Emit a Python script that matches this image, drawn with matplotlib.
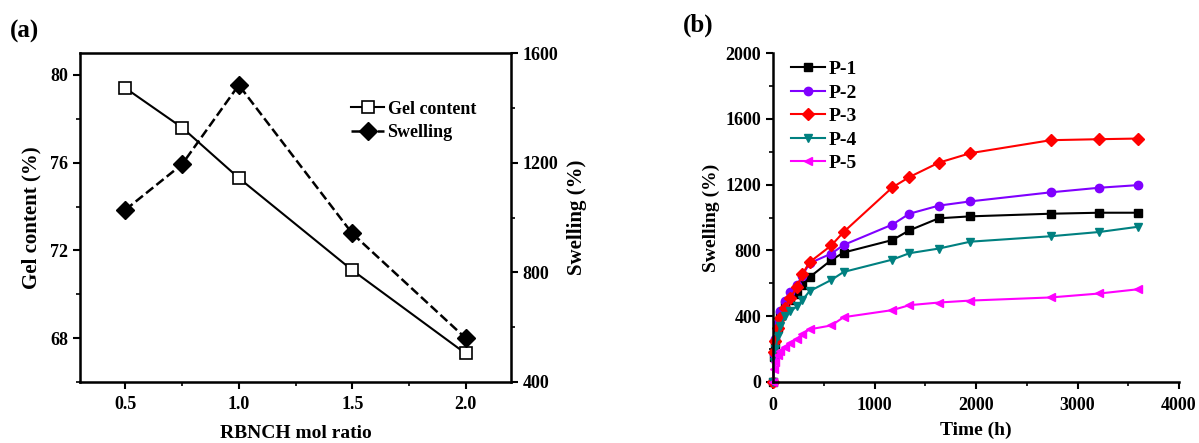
import matplotlib.pyplot as plt
from matplotlib.ticker import MultipleLocator

plt.rcParams['font.family'] = ['Liberation Serif', 'DejaVu Serif']
plt.rcParams['font.weight'] = 'bold'
plt.rcParams['axes.labelweight'] = 'bold'

# panel (a)
ratio = [0.5, 0.75, 1.0, 1.5, 2.0]
gel = [79.4, 77.6, 75.3, 71.1, 67.3]
swelling_a = [1028, 1194, 1483, 942, 560]

# panel (b)
time_h = [0, 12, 24, 48, 72, 120, 168, 240, 288, 360, 576, 696,
          1176, 1344, 1632, 1944, 2736, 3216, 3600]
p1 = [0, 150, 230, 330, 410, 470, 500, 536, 590, 637, 742, 787,
      863, 922, 995, 1007, 1023, 1029, 1029]
p2 = [0, 170, 260, 360, 433, 490, 550, 590, 645, 722, 781, 833,
      957, 1023, 1072, 1098, 1153, 1181, 1197]
p3 = [0, 180, 250, 330, 390, 449, 510, 580, 655, 728, 831, 912,
      1183, 1246, 1333, 1391, 1470, 1476, 1480]
p4 = [0, 120, 200, 280, 340, 400, 430, 461, 497, 552, 621, 669,
      744, 783, 811, 853, 886, 912, 944]
p5 = [0, 80, 120, 165, 190, 214, 237, 263, 291, 320, 344, 394,
      437, 467, 483, 495, 514, 538, 564]

fig = plt.figure(figsize=(11.99, 4.43), dpi=100)
W, H = 1199, 443

# ---- (a)
ax = fig.add_axes([80 / W, 1 - 382 / H, 431 / W, 329 / H])
ax.plot(ratio, gel, 'k-', marker='s', markersize=8, markerfacecolor='white',
        markeredgewidth=1.2, linewidth=1.5, label='Gel content')
ax.set_xlim(0.3, 2.2)
ax.set_ylim(66, 81)
ax.xaxis.set_major_locator(MultipleLocator(0.5))
ax.xaxis.set_minor_locator(MultipleLocator(0.25))
ax.yaxis.set_major_locator(MultipleLocator(4))
ax.yaxis.set_minor_locator(MultipleLocator(2))
ax.set_xlabel('RBNCH mol ratio', fontsize=14, labelpad=9)
ax.set_ylabel('Gel content (%)', fontsize=15, labelpad=6)
ax.tick_params(labelsize=13, width=1.5, length=5)
ax.tick_params(axis='x', pad=5)
ax.tick_params(which='minor', width=1.2, length=3)
for s in ax.spines.values():
    s.set_linewidth(1.8)

ax2 = ax.twinx()
ax2.plot(ratio, swelling_a, 'k--', marker='D', markersize=9, linewidth=1.8,
         label='Swelling')
ax2.set_ylim(400, 1600)
ax2.yaxis.set_major_locator(MultipleLocator(400))
ax2.yaxis.set_minor_locator(MultipleLocator(200))
ax2.set_ylabel('Swelling (%)', fontsize=15, labelpad=6)
ax2.tick_params(labelsize=13, width=1.5, length=5)
ax2.tick_params(which='minor', width=1.2, length=3)

h1, l1 = ax.get_legend_handles_labels()
h2, l2 = ax2.get_legend_handles_labels()
ax.legend(h1 + h2, l1 + l2, loc='upper left', bbox_to_anchor=(0.592, 0.905),
          frameon=False, fontsize=13, handlelength=1.8, handletextpad=0.2,
          labelspacing=0.35)

fig.text(10 / W, 1 - 31 / H, '(a)', fontsize=18, fontweight='bold', va='center')

# ---- (b)
bx = fig.add_axes([773 / W, 1 - 382 / H, 406 / W, 329 / H])
styles = [
    ('P-1', p1, 'black', 's'),
    ('P-2', p2, '#8000ff', 'o'),
    ('P-3', p3, 'red', 'D'),
    ('P-4', p4, '#008080', 'v'),
    ('P-5', p5, '#ff00ff', '<'),
]
for name, vals, col, mk in styles:
    bx.plot(time_h, vals, color=col, marker=mk, markersize=6, linewidth=1.5,
            label=name, clip_on=False)
bx.set_xlim(0, 4000)
bx.set_ylim(0, 2000)
bx.xaxis.set_major_locator(MultipleLocator(1000))
bx.xaxis.set_minor_locator(MultipleLocator(500))
bx.yaxis.set_major_locator(MultipleLocator(400))
bx.yaxis.set_minor_locator(MultipleLocator(200))
bx.spines['top'].set_visible(False)
bx.spines['right'].set_visible(False)
for s in ['left', 'bottom']:
    bx.spines[s].set_linewidth(1.8)
bx.set_xlabel('Time (h)', fontsize=14, labelpad=5)
bx.set_ylabel('Swelling (%)', fontsize=14, labelpad=4)
bx.tick_params(labelsize=13, width=1.5, length=5)
bx.tick_params(axis='x', pad=6)
bx.tick_params(which='minor', width=1.2, length=3)
bx.legend(loc='upper left', bbox_to_anchor=(0.0, 1.03), frameon=False,
          fontsize=14, handlelength=1.75, handletextpad=0.2, labelspacing=0.3)

fig.text(683 / W, 1 - 25 / H, '(b)', fontsize=18, fontweight='bold', va='center')

fig.savefig('out.png', dpi=100)
